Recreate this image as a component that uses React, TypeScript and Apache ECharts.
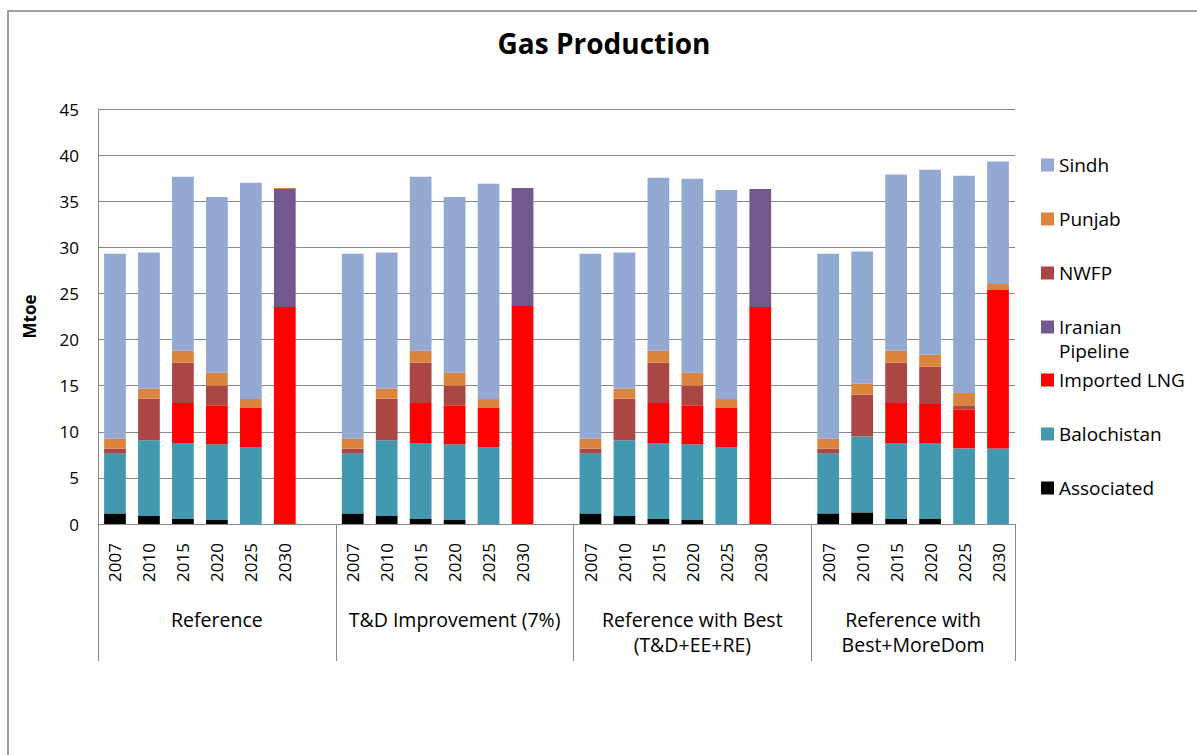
import React, { useEffect, useRef } from "react";
import * as echarts from "echarts";

const years = ["2007", "2010", "2015", "2020", "2025", "2030"];
const scenarios = [
  "Reference",
  "T&D Improvement (7%)",
  "Reference with Best\n(T&D+EE+RE)",
  "Reference with\nBest+MoreDom",
];

// values in Mtoe, 6 years per scenario, 4 scenarios
const associated = [1.15, 0.87, 0.54, 0.43, 0, 0, 1.15, 0.87, 0.54, 0.43, 0, 0, 1.15, 0.87, 0.54, 0.43, 0, 0, 1.15, 1.26, 0.54, 0.54, 0, 0];
const balochistan = [6.51, 8.2, 8.24, 8.21, 8.35, 0, 6.51, 8.2, 8.24, 8.21, 8.35, 0, 6.51, 8.2, 8.24, 8.21, 8.35, 0, 6.51, 8.24, 8.24, 8.24, 8.2, 8.2];
const importedLNG = [0, 0, 4.34, 4.23, 4.23, 23.53, 0, 0, 4.34, 4.23, 4.23, 23.64, 0, 0, 4.34, 4.23, 4.23, 23.53, 0, 0, 4.34, 4.23, 4.23, 17.17];
const iranianPipeline = [0, 0, 0, 0, 0, 12.79, 0, 0, 0, 0, 0, 12.79, 0, 0, 0, 0, 0, 12.79, 0, 0, 0, 0, 0, 0];
const nwfp = [0.51, 4.52, 4.37, 2.13, 0, 0, 0.51, 4.52, 4.37, 2.13, 0, 0, 0.51, 4.52, 4.37, 2.13, 0, 0, 0.51, 4.52, 4.37, 4.05, 0.36, 0];
const punjab = [1.08, 1.08, 1.3, 1.41, 0.97, 0.11, 1.08, 1.08, 1.3, 1.41, 0.97, 0, 1.08, 1.08, 1.3, 1.41, 0.97, 0, 1.08, 1.2, 1.3, 1.3, 1.41, 0.65];
const sindh = [20.06, 14.78, 18.87, 19.04, 23.45, 0, 20.06, 14.78, 18.87, 19.04, 23.35, 0, 20.06, 14.78, 18.76, 21.03, 22.66, 0, 20.06, 14.34, 19.12, 20.06, 23.57, 13.3];

const seriesDefs = [
  { name: "Associated", data: associated, color: "#000000" },
  { name: "Balochistan", data: balochistan, color: "#4198AF" },
  { name: "Imported LNG", data: importedLNG, color: "#FF0000" },
  { name: "Iranian Pipeline", data: iranianPipeline, color: "#71588F" },
  { name: "NWFP", data: nwfp, color: "#AA4643" },
  { name: "Punjab", data: punjab, color: "#DB843D" },
  { name: "Sindh", data: sindh, color: "#94A9D1" },
];

const FONT = "Open Sans";

// Build category list: years of each scenario, with one blank slot between scenarios
const categories: string[] = [];
const groupRanges: { start: number; end: number }[] = [];
scenarios.forEach((s, si) => {
  const start = categories.length;
  years.forEach((y) => categories.push(si + "|" + y));
  if (si < scenarios.length - 1) categories.push("gap" + si);
  groupRanges.push({ start, end: categories.length - 1 });
});

function expand(values: number[]) {
  const out: (number | string)[] = [];
  let k = 0;
  categories.forEach((c) => {
    if (c.startsWith("gap")) out.push("-");
    else out.push(values[k++]);
  });
  return out;
}

export default function App() {
  const ref = useRef<HTMLDivElement>(null);
  useEffect(() => {
    if (!ref.current) return;
    const chart = echarts.init(ref.current, null, { renderer: "svg" });
    const legendCommon = {
      orient: "vertical",
      left: 1041,
      padding: 0,
      itemWidth: 13,
      itemHeight: 13,
      itemGap: 30,
      icon: "rect",
      textStyle: { fontFamily: FONT, fontSize: 19, color: "#000", lineHeight: 24 },
    };
    chart.setOption({
      animation: false,
      backgroundColor: "transparent",
      title: {
        text: "Gas Production",
        left: 604,
        textAlign: "center",
        top: 29,
        padding: 0,
        textStyle: { fontFamily: FONT, fontSize: 28, fontWeight: "bold", color: "#000" },
      },
      legend: [
        { ...legendCommon, top: 153, data: ["Sindh", "Punjab", "NWFP"] },
        {
          ...legendCommon,
          top: 291,
          data: ["Iranian Pipeline"],
          formatter: () => "\nIranian\nPipeline",
        },
        { ...legendCommon, top: 368, data: ["Imported LNG", "Balochistan", "Associated"] },
      ],
      grid: { left: 98, top: 109, width: 917, height: 415, containLabel: false },
      xAxis: {
        type: "category",
        data: categories,
        axisLine: { lineStyle: { color: "#878787" } },
        axisTick: { show: false },
        axisLabel: {
          interval: 0,
          rotate: 90,
          margin: 19,
          fontFamily: FONT,
          fontSize: 17,
          color: "#000",
          formatter: (v: string) => (v.startsWith("gap") ? "" : v.split("|")[1]),
        },
      },
      yAxis: {
        type: "value",
        min: 0,
        max: 45,
        interval: 5,
        name: "Mtoe",
        nameLocation: "middle",
        nameGap: 60,
        nameTextStyle: { fontFamily: FONT, fontSize: 17, fontWeight: "bold", color: "#000" },
        axisLine: { show: true, lineStyle: { color: "#878787" } },
        axisTick: { show: false },
        splitLine: { lineStyle: { color: "#878787" } },
        axisLabel: { fontFamily: FONT, fontSize: 17, color: "#000", margin: 19 },
      },
      series: seriesDefs.map((s) => ({
        name: s.name,
        type: "bar",
        stack: "total",
        barWidth: "64%",
        data: expand(s.data),
        itemStyle: { color: s.color },
      })),
    });

    // Multi-level category decorations, positioned through the axes
    const c0 = chart.convertToPixel({ xAxisIndex: 0 }, 0) as number;
    const c1 = chart.convertToPixel({ xAxisIndex: 0 }, 1) as number;
    const bw = c1 - c0;
    const y0 = chart.convertToPixel({ yAxisIndex: 0 }, 0) as number;
    const leftEdge = (i: number) => (chart.convertToPixel({ xAxisIndex: 0 }, i) as number) - bw / 2;
    const rightEdge = (i: number) => (chart.convertToPixel({ xAxisIndex: 0 }, i) as number) + bw / 2;
    const graphic: any[] = [];
    const xs = [leftEdge(0), ...groupRanges.map((g) => rightEdge(g.end))];
    xs.forEach((x) => {
      graphic.push({
        type: "line",
        shape: { x1: Math.round(x) + 0.5, y1: y0, x2: Math.round(x) + 0.5, y2: y0 + 137 },
        style: { stroke: "#878787", lineWidth: 1 },
        silent: true,
      });
    });
    groupRanges.forEach((g, gi) => {
      const cx = (leftEdge(g.start) + rightEdge(g.end)) / 2;
      graphic.push({
        type: "text",
        x: cx,
        y: y0 + 83,
        style: {
          text: scenarios[gi],
          fontFamily: FONT,
          fontSize: 19.5,
          lineHeight: 25,
          fill: "#000",
          align: "center",
          verticalAlign: "top",
        },
        silent: true,
      });
    });
    chart.setOption({ graphic });
    return () => chart.dispose();
  }, []);

  return (
    <>
      <div
        style={{
          position: "absolute",
          left: 7,
          top: 10,
          width: 1190,
          height: 745,
          boxSizing: "border-box",
          borderTop: "2px solid #a0a0a0",
          borderLeft: "2px solid #a0a0a0",
        }}
      />
      <div ref={ref} style={{ position: "absolute", left: 0, top: 0, width: 1197, height: 755 }} />
    </>
  );
}
